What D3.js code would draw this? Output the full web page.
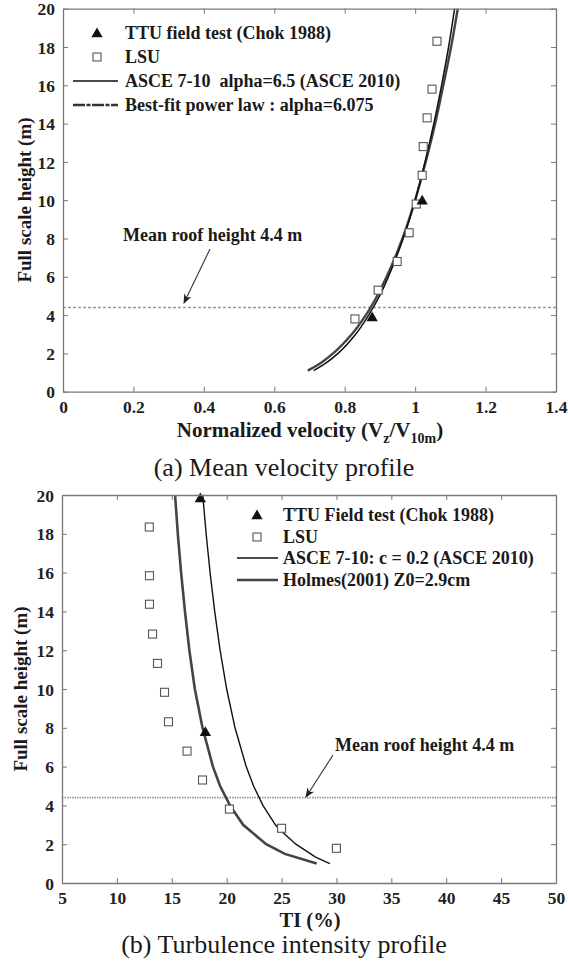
<!DOCTYPE html>
<html>
<head>
<meta charset="utf-8">
<script src="https://cdn.jsdelivr.net/npm/d3@7"></script>
<style>
body { margin: 0; background: #fff; }
svg { display: block; font-family: "Liberation Serif", "Times New Roman", serif; }
</style>
</head>
<body>
<svg id="chart" width="568" height="966"></svg>
<script>
// ---------- panel (a) data : mean velocity ----------
var velTicks = [0, 0.2, 0.4, 0.6, 0.8, 1, 1.2, 1.4];
var heightTicks = [0, 2, 4, 6, 8, 10, 12, 14, 16, 18, 20];

var ttuVelZ = [3.9, 10.0];
var ttuVelV = [0.878, 1.02];

var lsuVelZ = [3.8, 5.3, 6.8, 8.3, 9.8, 11.3, 12.8, 14.3, 15.8, 18.3];
var lsuVelV = [0.829, 0.895, 0.949, 0.983, 1.003, 1.02, 1.023, 1.034, 1.048, 1.062];

var curveVelZ = [1.1, 1.5, 2, 3, 4, 5, 6, 8, 10, 12, 14, 16, 18, 20];
var asceVelV = [0.712, 0.747, 0.781, 0.831, 0.868, 0.899, 0.924, 0.966, 1.0, 1.028, 1.053, 1.075, 1.095, 1.112];
var fitVelV = [0.695, 0.732, 0.767, 0.820, 0.860, 0.892, 0.919, 0.964, 1.0, 1.030, 1.057, 1.080, 1.102, 1.121];

// ---------- panel (b) data : turbulence intensity ----------
var tiTicks = [5, 10, 15, 20, 25, 30, 35, 40, 45, 50];

var ttuTiZ = [7.8, 19.85];
var ttuTiV = [18.06, 17.6];

var lsuTiZ = [1.79, 2.82, 3.81, 5.31, 6.8, 8.31, 9.83, 11.32, 12.83, 14.37, 15.84, 18.35];
var lsuTiV = [30.0, 25.0, 20.25, 17.8, 16.39, 14.7, 14.34, 13.7, 13.25, 12.97, 12.97, 12.95];

var asceTiZ = [1, 1.33, 2, 2.82, 3, 4, 5, 6, 8, 10, 12, 14, 16, 18, 20];
var asceTiV = [29.4, 28.1, 26.3, 24.7, 24.44, 23.3, 22.45, 21.78, 20.76, 20.0, 19.4, 18.91, 18.49, 18.13, 17.82];

var holmesTiZ = [1.0, 1.5, 2, 3, 4, 5, 6, 8, 10, 12, 14, 16, 18, 20];
var holmesTiV = [28.2, 25.3, 23.6, 21.5, 20.3, 19.4, 18.75, 17.8, 17.1, 16.6, 16.2, 15.85, 15.55, 15.3];

var roofHeight = 4.4;

var svg = d3.select("#chart");
var axisGrey = "#777";

function drawFrame(g, x, y, xTicks, yTicks, xFmt) {
    var x0 = x.range()[0], x1 = x.range()[1];
    var y0 = y.range()[0], y1 = y.range()[1];

    // bottom / left with labels, top / right with ticks only (inside ticks)
    var bottom = g.append("g").attr("transform", "translate(0," + y0 + ")")
        .call(d3.axisBottom(x).tickValues(xTicks).tickSizeInner(-5).tickSizeOuter(0).tickPadding(9).tickFormat(xFmt));
    var top = g.append("g").attr("transform", "translate(0," + y1 + ")")
        .call(d3.axisTop(x).tickValues(xTicks).tickSizeInner(-5).tickSizeOuter(0).tickFormat(""));
    var left = g.append("g").attr("transform", "translate(" + x0 + ",0)")
        .call(d3.axisLeft(y).tickValues(yTicks).tickSizeInner(-5).tickSizeOuter(0).tickPadding(8).tickFormat(d3.format("d")));
    var right = g.append("g").attr("transform", "translate(" + x1 + ",0)")
        .call(d3.axisRight(y).tickValues(yTicks).tickSizeInner(-5).tickSizeOuter(0).tickFormat(""));

    [bottom, top, left, right].forEach(function(a) {
        a.select(".domain").attr("stroke", axisGrey).attr("stroke-width", 1.3);
        a.selectAll(".tick line").attr("stroke", axisGrey);
        a.selectAll("text")
            .attr("font-family", "Liberation Serif")
            .attr("font-weight", "bold")
            .attr("font-size", 17.5)
            .attr("fill", "#222");
    });
    left.selectAll("text").attr("dy", "0.35em");
}

function triangle(g, cx, cy) {
    g.append("path")
        .attr("d", d3.symbol().type(d3.symbolTriangle).size(55)())
        .attr("transform", "translate(" + cx + "," + (cy + 1) + ")")
        .attr("fill", "#111");
}

function square(g, cx, cy) {
    g.append("rect")
        .attr("x", cx - 4).attr("y", cy - 4)
        .attr("width", 8).attr("height", 8)
        .attr("fill", "#fff").attr("stroke", "#555").attr("stroke-width", 1.1);
}

function pairs(a, b) {
    return a.map(function(v, i) { return [v, b[i]]; });
}

function label(g, x, y, txt, size, weight, anchor) {
    return g.append("text")
        .attr("x", x).attr("y", y)
        .attr("font-size", size)
        .attr("font-weight", weight || "bold")
        .attr("text-anchor", anchor || "start")
        .attr("dy", "0.35em")
        .attr("fill", "#1a1a1a")
        .text(txt);
}

svg.append("defs").append("marker")
    .attr("id", "arrow")
    .attr("viewBox", "0 0 10 10")
    .attr("refX", 9).attr("refY", 5)
    .attr("markerWidth", 9).attr("markerHeight", 9)
    .attr("orient", "auto")
    .append("path")
    .attr("d", "M0,1 L10,5 L0,9 L3,5 Z")
    .attr("fill", "#222");

/*---------------------------- PANEL A ----------------------------*/
var ga = svg.append("g");
var xa = d3.scaleLinear().domain([0, 1.4]).range([63, 556]);
var ya = d3.scaleLinear().domain([0, 20]).range([391.7, 8.7]);

ga.append("line")
    .attr("x1", xa(0)).attr("x2", xa(1.4))
    .attr("y1", ya(roofHeight)).attr("y2", ya(roofHeight))
    .attr("stroke", "#999").attr("stroke-width", 1.6).attr("stroke-dasharray", "3,2");

var lineA = d3.line().x(function(d) { return xa(d[0]); }).y(function(d) { return ya(d[1]); }).curve(d3.curveMonotoneY);

ga.append("path").datum(pairs(fitVelV, curveVelZ))
    .attr("d", lineA).attr("fill", "none")
    .attr("stroke", "#444").attr("stroke-width", 2.4);
ga.append("path").datum(pairs(asceVelV, curveVelZ))
    .attr("d", lineA).attr("fill", "none")
    .attr("stroke", "#111").attr("stroke-width", 1.5);

lsuVelV.forEach(function(v, i) { square(ga, xa(v), ya(lsuVelZ[i])); });
ttuVelV.forEach(function(v, i) { triangle(ga, xa(v), ya(ttuVelZ[i])); });

drawFrame(ga, xa, ya, velTicks, heightTicks, function(d) { return d3.format("")(d); });

// legend a
triangle(ga, 97, 33);
label(ga, 125, 33, "TTU field test (Chok 1988)", 18);
square(ga, 97, 57);
label(ga, 125, 57, "LSU", 18);
ga.append("line").attr("x1", 73).attr("x2", 118).attr("y1", 81).attr("y2", 81)
    .attr("stroke", "#111").attr("stroke-width", 1.5);
label(ga, 125, 81, "ASCE 7-10  alpha=6.5 (ASCE 2010)", 18).attr("xml:space", "preserve");
ga.append("line").attr("x1", 73).attr("x2", 118).attr("y1", 105).attr("y2", 105)
    .attr("stroke", "#333").attr("stroke-width", 2.4).attr("stroke-dasharray", "12,1.5,4,1.5");
label(ga, 125, 105, "Best-fit power law : alpha=6.075", 18);

// annotation a
label(ga, 123, 235, "Mean roof height 4.4 m", 18);
ga.append("line").attr("x1", 210).attr("y1", 249).attr("x2", 184).attr("y2", 303)
    .attr("stroke", "#333").attr("stroke-width", 1.1).attr("marker-end", "url(#arrow)");

// axis titles a
var xtA = ga.append("text").attr("x", 310).attr("y", 437)
    .attr("text-anchor", "middle").attr("font-size", 21).attr("font-weight", "bold").attr("fill", "#1a1a1a");
xtA.append("tspan").text("Normalized velocity (V");
xtA.append("tspan").attr("font-size", 14).attr("dy", 6).text("z");
xtA.append("tspan").attr("dy", -6).text("/V");
xtA.append("tspan").attr("font-size", 14).attr("dy", 6).text("10m");
xtA.append("tspan").attr("dy", -6).text(")");

ga.append("text").attr("transform", "translate(31,200) rotate(-90)")
    .attr("text-anchor", "middle").attr("font-size", 19).attr("font-weight", "bold").attr("fill", "#1a1a1a")
    .text("Full scale height (m)");

label(ga, 284, 467, "(a) Mean velocity profile", 26, "normal", "middle");

/*---------------------------- PANEL B ----------------------------*/
var gb = svg.append("g");
var xb = d3.scaleLinear().domain([5, 50]).range([62, 556]);
var yb = d3.scaleLinear().domain([0, 20]).range([883, 495]);

gb.append("line")
    .attr("x1", xb(5)).attr("x2", xb(50))
    .attr("y1", yb(roofHeight)).attr("y2", yb(roofHeight))
    .attr("stroke", "#999").attr("stroke-width", 1.6).attr("stroke-dasharray", "1.5,1");

var lineB = d3.line().x(function(d) { return xb(d[0]); }).y(function(d) { return yb(d[1]); });

gb.append("path").datum(pairs(holmesTiV, holmesTiZ))
    .attr("d", lineB).attr("fill", "none")
    .attr("stroke", "#444").attr("stroke-width", 2.6);
gb.append("path").datum(pairs(asceTiV, asceTiZ))
    .attr("d", lineB).attr("fill", "none")
    .attr("stroke", "#111").attr("stroke-width", 1.4);

lsuTiV.forEach(function(v, i) { square(gb, xb(v), yb(lsuTiZ[i])); });
ttuTiV.forEach(function(v, i) { triangle(gb, xb(v), yb(ttuTiZ[i])); });

drawFrame(gb, xb, yb, tiTicks, heightTicks, d3.format("d"));

// legend b
triangle(gb, 257, 515);
label(gb, 283, 515, "TTU Field test (Chok 1988)", 18);
square(gb, 257, 537);
label(gb, 283, 537, "LSU", 18);
gb.append("line").attr("x1", 237).attr("x2", 278).attr("y1", 558).attr("y2", 558)
    .attr("stroke", "#111").attr("stroke-width", 1.4);
label(gb, 283, 558, "ASCE 7-10: c = 0.2 (ASCE 2010)", 18);
gb.append("line").attr("x1", 237).attr("x2", 278).attr("y1", 580).attr("y2", 580)
    .attr("stroke", "#444").attr("stroke-width", 2.6);
label(gb, 283, 580, "Holmes(2001) Z0=2.9cm", 18);

// annotation b
label(gb, 335, 745, "Mean roof height 4.4 m", 18);
gb.append("line").attr("x1", 333).attr("y1", 755).attr("x2", 306).attr("y2", 797)
    .attr("stroke", "#333").attr("stroke-width", 1.1).attr("marker-end", "url(#arrow)");

gb.append("text").attr("x", 310).attr("y", 920).attr("dy", "0.35em")
    .attr("text-anchor", "middle").attr("font-size", 20.5).attr("font-weight", "bold").attr("fill", "#1a1a1a")
    .text("TI (%)");

gb.append("text").attr("transform", "translate(27,689) rotate(-90)")
    .attr("text-anchor", "middle").attr("font-size", 19).attr("font-weight", "bold").attr("fill", "#1a1a1a")
    .text("Full scale height (m)");

label(gb, 284, 944, "(b) Turbulence intensity profile", 26, "normal", "middle");
</script>
</body>
</html>
